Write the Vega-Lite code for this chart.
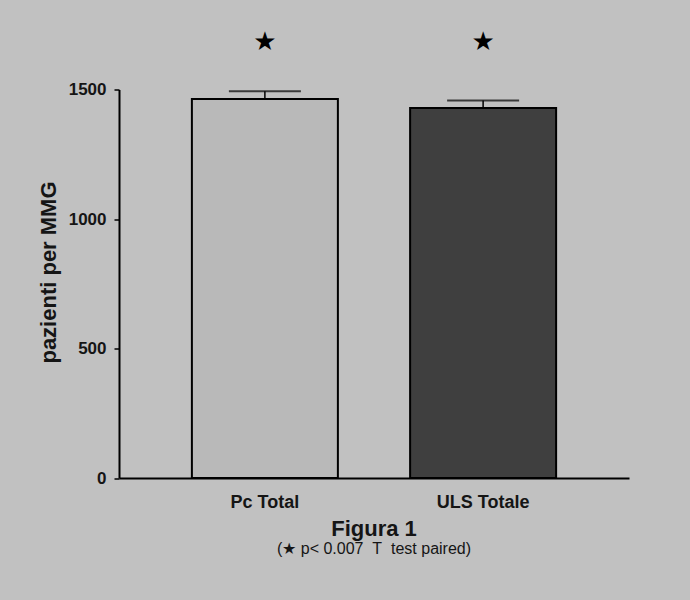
{
  "$schema": "https://vega.github.io/schema/vega-lite/v6.json",
  "autosize": {"type": "none"},
  "width": 510,
  "height": 388.5,
  "padding": {"left": 119, "top": 89.5, "right": 61, "bottom": 122},
  "background": "#c1c1c1",
  "config": {"view": {"stroke": null}, "font": "Liberation Sans"},
  "title": {
    "text": "Figura 1",
    "subtitle": "(★ p< 0.007\u00a0\u00a0T\u00a0\u00a0test paired)",
    "orient": "bottom",
    "anchor": "middle",
    "fontSize": 22,
    "fontWeight": "bold",
    "color": "#151515",
    "subtitleFontSize": 16,
    "subtitleColor": "#151515",
    "subtitlePadding": 0,
    "offset": 8
  },
  "data": {
    "values": [
      {"group": "Pc Total", "mean": 1463, "upper": 1493, "sig": "★"},
      {"group": "ULS Totale", "mean": 1429, "upper": 1458, "sig": "★"}
    ]
  },
  "encoding": {
    "x": {
      "field": "group",
      "type": "nominal",
      "sort": null,
      "scale": {"paddingInner": 0.331, "paddingOuter": 0.334},
      "axis": {
        "title": null,
        "labelAngle": 0,
        "labelFontSize": 18,
        "labelFontWeight": "bold",
        "labelColor": "#151515",
        "labelPadding": 15,
        "ticks": false,
        "tickSize": 0,
        "domainColor": "#000000",
        "domainWidth": 2
      }
    }
  },
  "layer": [
    {
      "mark": {"type": "bar", "stroke": "#000000", "strokeWidth": 2, "fillOpacity": 1},
      "encoding": {
        "y": {
          "field": "mean",
          "type": "quantitative",
          "scale": {"domain": [0, 1500], "nice": false, "zero": true},
          "axis": {
            "values": [0, 500, 1000, 1500],
            "format": "d",
            "grid": false,
            "title": "pazienti per MMG",
            "titleFontSize": 22,
            "titleFontWeight": "bold",
            "titleColor": "#151515",
            "titlePadding": 8,
            "titleY": 182.5,
            "labelFontSize": 17,
            "labelFontWeight": 600,
            "labelColor": "#151515",
            "labelPadding": 8,
            "tickSize": 5,
            "tickColor": "#000000",
            "tickWidth": 1.5,
            "domainColor": "#000000",
            "domainWidth": 2
          }
        },
        "fill": {
          "condition": {"test": "datum.group === 'ULS Totale'", "value": "#3f3f3f"},
          "value": "#b9b9b9"
        }
      }
    },
    {
      "mark": {"type": "rule", "color": "#000000", "strokeWidth": 1.5},
      "encoding": {
        "y": {"field": "mean", "type": "quantitative"},
        "y2": {"field": "upper"}
      }
    },
    {
      "mark": {"type": "tick", "color": "#000000", "size": 72, "thickness": 2},
      "encoding": {
        "y": {"field": "upper", "type": "quantitative"}
      }
    },
    {
      "mark": {"type": "text", "fontSize": 26, "color": "#000000", "baseline": "middle", "font": "DejaVu Sans"},
      "encoding": {
        "y": {"datum": 1685, "type": "quantitative"},
        "text": {"field": "sig"}
      }
    }
  ]
}
